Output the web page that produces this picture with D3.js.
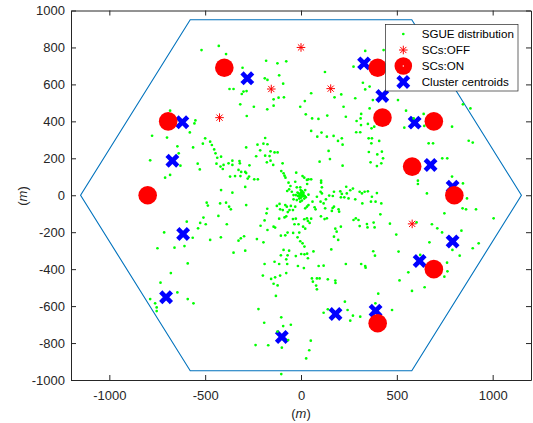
<!DOCTYPE html>
<html>
<head>
<meta charset="utf-8">
<script src="https://cdn.jsdelivr.net/npm/d3@7"></script>
<style>
  body { margin: 0; background: #fff; }
  svg { display: block; font-family: "Liberation Sans", Arial, sans-serif; }
</style>
</head>
<body>
<svg id="chart" width="533" height="423"></svg>
<script>
// ---- data (metres) ----
const xTicks = [-1000, -500, 0, 500, 1000];
const yTicks = [-1000, -800, -600, -400, -200, 0, 200, 400, 600, 800, 1000];

// cell boundary (hexagon vertices)
const hexX = [1150, 578, -578, -1150, -578, 578];
const hexY = [0, 950, 950, 0, -950, -950];

// small cells switched off
const offX = [0, -155, -425, 155, 580];
const offY = [800, 575, 420, 577, -155];

// small cells switched on
const onX = [-400, -693, -800, 400, 425, 693, 580, 800, 693, 400];
const onY = [690, 400, 0, 690, 420, 400, 155, 0, -400, -693];

// cluster centroids
const cenX = [-280, -619, -671, -615, -704, -100, 329, 424, 593, 676, 791, 791, 619, 180, 389];
const cenY = [633, 395, 187, -210, -552, -767, 714, 537, 393, 164, 46, -250, -356, -643, -625];

// user equipment positions (x, y pairs)
const uePairs = [
  [-283,429],[25,438],[58,416],[91,413],[137,431],[234,425],[314,440],[311,416],[290,402],[313,380],
  [349,386],[368,362],[382,371],[53,348],[107,339],[85,317],[135,317],[170,321],[193,294],[213,308],
  [217,274],[288,341],[309,341],[353,308],[370,308],[367,281],[408,294],
  [-187,310],[-227,274],[-196,279],[-175,276],[-213,243],[-286,259],[-159,238],[-138,232],[-122,232],
  [-187,214],[-164,212],[-178,178],[-159,187],[-145,164],[-234,211],
  [144,240],[151,196],[97,182],[217,160],[354,234],[398,221],[422,236],[428,200],[363,178],[396,158],[419,173],
  [-96,173],[-103,131],[-91,119],[-86,106],[-81,95],[-25,122],
  [-358,187],[-321,185],[-319,173],[-378,173],[-358,164],[-326,137],[-312,126],[-291,126],[-269,162],
  [-370,101],[-344,104],[-316,104],[-286,120],[-271,101],[-278,90],[-244,86],[-225,86],[-291,45],[-358,14],
  [-391,-40],[-375,-62],[-366,-76],[-286,-53],[-387,-157],
  [-65,68],[-30,73],[-55,50],[-72,23],[-62,32],[-22,43],[8,104],[17,95],[31,83],[32,61],[39,86],[53,86],
  [-4,43],[1,16],[13,14],[22,28],[1,-11],[-9,-18],[11,-4],[-16,-4],[-27,1],[17,-18],[5,-29],[-4,-35],
  [-22,-26],[-39,-22],[39,3],[-13,10],[25,-11],[-2,28],[-48,19],[-39,1],
  [0,0],[-5,5],[8,-3],[3,12],[-10,-5],[12,5],[-3,-15],[6,22],[-18,15],[20,-5],
  [105,79],[105,68],[109,43],[102,19],[109,10],[83,-8],[60,-35],[39,-53],[31,-62],[22,-71],[71,-65],[76,-76],
  [102,-35],[118,-44],[130,-22],[147,-2],[166,-4],[172,19],[205,21],[208,-11],[226,-11],[213,7],[236,46],
  [271,36],[257,27],[239,10],[248,-17],[283,-22],[306,19],[318,10],[332,19],[349,21],[370,-8],[396,12],
  [320,-44],[365,-35],[389,-35],[419,-44],[165,-69],[161,-85],[172,-62],[196,-76],[199,-89],[126,-71],
  [-112,-47],[-126,-58],[-109,-76],[-95,-80],[-82,-53],[-74,-62],[-60,-80],[-53,-58],[-42,-80],[-30,-62],
  [-69,-91],[-176,-73],[-180,-98],[-190,-136],[-211,-165],[-175,-188],[-143,-170],[-135,-175],[-77,-114],
  [-114,-127],[-86,-120],[-42,-129],[-27,-127],[-34,-157],[-13,-157],[17,-130],[31,-125],[53,-127],[36,-139],
  [45,-150],[11,-170],[22,-181],[-9,-202],[-18,-228],[-41,-204],[-70,-202],[-82,-217],[-105,-219],[-4,-249],
  [8,-260],[18,-278],[-230,-237],[-196,-255],[-314,-233],[-326,-246],[-297,-222],[-352,-311],[-291,-300],
  [104,-114],[123,-129],[135,-125],
  [274,-134],[286,-125],[300,-134],[306,-167],[344,-156],[347,-174],[379,-148],[384,-174],[414,-103],
  [179,-181],[208,-170],[186,-197],[172,-224],[194,-242],[158,-293],
  [-91,-296],[-62,-300],[-105,-325],[-70,-325],[-27,-329],[1,-318],[18,-320],[32,-316],[36,-341],[65,-304],
  [15,-394],[-16,-383],[-190,-372],[-138,-360],[-114,-372],[-77,-347],[-72,-372],[92,-383],[118,-381],
  [234,-372],[314,-372],[335,-383],[337,-392],[377,-303],[386,-327],
  [-199,-435],[-156,-453],[-135,-444],[-109,-435],[-77,-421],[-143,-479],[-122,-488],[57,-450],[62,-468],
  [83,-450],[97,-450],[79,-489],[83,-509],[140,-455],[179,-462],[180,-475],
  [-429,808],[-519,786],[-391,764],[-305,690],[-182,728],[-123,714],[-77,725],[-189,633],[-175,624],
  [-114,649],[-93,604],[-373,575],[-352,575],[-300,561],[-309,548],[-284,564],[-117,528],[-89,530],
  [-143,519],[-317,492],[-246,479],[-176,465],[-143,485],[-683,458],[-777,322],[-699,312],[-551,405],
  [-556,389],[-580,340],[-645,265],[-563,259],[-500,308],[-512,279],[-474,290],[-465,272],[-453,248],
  [-446,227],[-437,203],[-417,209],[-441,171],[-404,164],[-420,155],[-408,142],[-539,171],[-528,140],
  [-638,227],[-629,160],[-787,189],[-683,110],[-709,95],[-417,28],
  [125,667],[274,696],[335,781],[431,786],[323,609],[358,588],[335,573],[53,552],[20,510],[-4,479],
  [175,530],[210,546],[283,525],[222,479],[358,470],[375,515],[506,515],[548,458],[640,440],[588,416],
  [788,371],[539,366],[643,375],[666,281],[689,281],[737,200],[763,200],[610,79],[610,61],[657,10],
  [788,101],[845,64],[884,470],[845,492],[875,295],[896,285],
  [-492,-40],[-486,-56],[-422,-44],[-431,-112],[-509,-121],[-497,-157],[-526,-150],[-537,-179],[-565,-230],
  [-608,-275],[-596,-143],[-714,-201],[-660,-284],[-749,-287],[-591,-369],[-679,-421],[-733,-473],
  [-787,-562],[-761,-585],[-753,-607],[-753,-627],[-645,-526],[-591,-562],[-561,-585],[-418,-228],
  [-474,-242],[-222,-616],[-192,-690],[-237,-811],[-171,-812],[-103,-661],[-93,-708],[-53,-701],
  [-100,-825],[-123,-738],[-67,-784],[-103,-968],[-131,-545],
  [866,-17],[843,-71],[861,-76],[913,-76],[748,-98],[1005,-125],[603,-147],[683,-157],[711,-179],
  [736,-201],[670,-255],[837,-192],[927,-260],[896,-287],[828,-327],[790,-296],[622,-323],[762,-365],
  [764,-412],[748,-441],[560,-417],[645,-498],[579,-518],[514,-461],[509,-305],[497,-213],[464,-154],
  [403,-533],[388,-585],[475,-621],[229,-576],[243,-621],[271,-652],[309,-657],[257,-679],[118,-636],
  [140,-617],[51,-787],[43,-839],[27,-883]
];

const legendLabels = ["SGUE distribution", "SCs:OFF", "SCs:ON", "Cluster centroids"];

// ---- layout ----
const svg = d3.select("#chart");
const ink = "#262626";
const x = d3.scaleLinear().domain([-1200, 1200]).range([71, 531]);
const y = d3.scaleLinear().domain([-1000, 1000]).range([380, 10.5]);
const plainNum = d => String(d);

// marker shapes
const starPath = r => `M${-r},0L${r},0M0,${-r}L0,${r}` +
  `M${-r*0.72},${-r*0.72}L${r*0.72},${r*0.72}M${-r*0.72},${r*0.72}L${r*0.72},${-r*0.72}`;
const crossPath = r => `M${-r},${-r}L${r},${r}M${-r},${r}L${r},${-r}`;
const crossR = 3.7, crossW = 4.6;

const plot = svg.append("g");

// hexagonal cell edge
const hexPts = hexX.map((v, i) => [x(v), y(hexY[i])]);
plot.append("path")
  .attr("d", d3.line()(hexPts) + "Z")
  .attr("fill", "none")
  .attr("stroke", "#0072BD")
  .attr("stroke-width", 1.1);

// cluster centroids
plot.append("g").selectAll("path")
  .data(cenX.map((v, i) => [v, cenY[i]]))
  .join("path")
  .attr("transform", d => `translate(${x(d[0])},${y(d[1])})`)
  .attr("d", crossPath(crossR))
  .attr("stroke", "#0000ff")
  .attr("stroke-width", crossW)
  .attr("stroke-linecap", "square")
  .attr("fill", "none");

// user equipment
plot.append("g").selectAll("circle")
  .data(uePairs)
  .join("circle")
  .attr("cx", d => x(d[0]))
  .attr("cy", d => y(d[1]))
  .attr("r", 1.35)
  .attr("fill", "#00ff00");

// switched-off small cells
plot.append("g").selectAll("path")
  .data(offX.map((v, i) => [v, offY[i]]))
  .join("path")
  .attr("transform", d => `translate(${x(d[0])},${y(d[1])})`)
  .attr("d", starPath(4.3))
  .attr("stroke", "#ff0000")
  .attr("stroke-width", 1)
  .attr("fill", "none");

// switched-on small cells
plot.append("g").selectAll("circle")
  .data(onX.map((v, i) => [v, onY[i]]))
  .join("circle")
  .attr("cx", d => x(d[0]))
  .attr("cy", d => y(d[1]))
  .attr("r", 9.3)
  .attr("fill", "#ff0000");

// ---- axes (box with inward ticks) ----
function styleAxis(g) {
  g.select(".domain").attr("stroke", ink);
  g.selectAll(".tick line").attr("stroke", ink);
  g.selectAll(".tick text").attr("fill", ink)
    .attr("font-size", 13).attr("font-family", "Liberation Sans, Arial, sans-serif");
}
svg.append("g").attr("transform", "translate(0,380)")
  .call(d3.axisBottom(x).tickValues(xTicks).tickFormat(plainNum).tickSize(-5).tickSizeOuter(0).tickPadding(10.5))
  .call(styleAxis);
svg.append("g").attr("transform", "translate(0,10.5)")
  .call(d3.axisTop(x).tickValues(xTicks).tickSize(-5).tickSizeOuter(0).tickFormat(""))
  .call(styleAxis);
svg.append("g").attr("transform", "translate(71,0)")
  .call(d3.axisLeft(y).tickValues(yTicks).tickFormat(plainNum).tickSize(-5).tickSizeOuter(0).tickPadding(6))
  .call(styleAxis);
svg.append("g").attr("transform", "translate(531,0)")
  .call(d3.axisRight(y).tickValues(yTicks).tickSize(-5).tickSizeOuter(0).tickFormat(""))
  .call(styleAxis);

// axis titles "(m)" with italic m
function unitLabel(sel) {
  sel.append("tspan").text("(");
  sel.append("tspan").attr("font-style", "italic").text("m");
  sel.append("tspan").text(")");
}
svg.append("text")
  .attr("x", 301).attr("y", 418)
  .attr("text-anchor", "middle").attr("font-size", 13).attr("fill", ink)
  .call(unitLabel);
svg.append("text")
  .attr("transform", "translate(27,196) rotate(-90)")
  .attr("text-anchor", "middle").attr("font-size", 13).attr("fill", ink)
  .call(unitLabel);

// ---- legend ----
const lg = svg.append("g");
lg.append("rect")
  .attr("x", 385.5).attr("y", 24.5).attr("width", 132.5).attr("height", 66.5)
  .attr("fill", "#fff").attr("stroke", ink).attr("stroke-width", 0.7);
const rowY = i => 34 + i * 16;
const mx = 403.3;
lg.append("circle").attr("cx", mx).attr("cy", rowY(0)).attr("r", 1.35).attr("fill", "#00ff00");
lg.append("path").attr("transform", `translate(${mx},${rowY(1)})`).attr("d", starPath(4.3))
  .attr("stroke", "#ff0000").attr("stroke-width", 1).attr("fill", "none");
lg.append("circle").attr("cx", mx).attr("cy", rowY(2)).attr("r", 8.8).attr("fill", "#ff0000");
lg.append("circle").attr("cx", mx).attr("cy", rowY(2)).attr("r", 0.7).attr("fill", "#ffffff");
lg.append("path").attr("transform", `translate(${mx},${rowY(3)})`).attr("d", crossPath(crossR))
  .attr("stroke", "#0000ff").attr("stroke-width", crossW).attr("stroke-linecap", "square").attr("fill", "none");
lg.selectAll("text.lab")
  .data(legendLabels)
  .join("text")
  .attr("class", "lab")
  .attr("x", 421.7)
  .attr("y", (d, i) => rowY(i) + 4.2)
  .attr("font-size", 11.6)
  .attr("fill", "#000")
  .text(d => d);
</script>
</body>
</html>
